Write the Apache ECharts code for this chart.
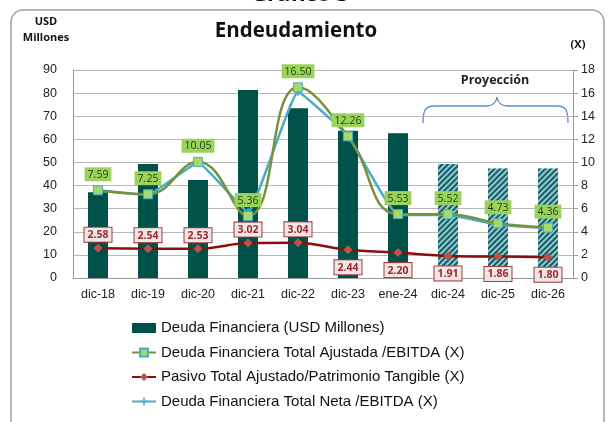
<!DOCTYPE html>
<html><head><meta charset="utf-8">
<script src="https://cdn.jsdelivr.net/npm/echarts@6/dist/echarts.min.js"></script>
<style>html,body{margin:0;padding:0;background:#fff}#c{width:610px;height:422px}</style>
</head><body><div id="c"></div>
<script>
const categories = ['dic-18','dic-19','dic-20','dic-21','dic-22','dic-23','ene-24','dic-24','dic-25','dic-26'];
const deuda = [37.1, 49.3, 42.4, 81.3, 73.4, 63.7, 62.6, 49.3, 47.4, 47.4];
const projected = [false,false,false,false,false,false,false,true,true,true];
const ajustada = [7.59, 7.25, 10.05, 5.36, 16.50, 12.26, 5.53, 5.52, 4.73, 4.36];
const pasivo = [2.58, 2.54, 2.53, 3.02, 3.04, 2.44, 2.20, 1.91, 1.86, 1.80];
const neta = [7.6, 7.2, 10.0, 5.7, 16.1, 12.3, 5.45, 5.45, 4.6, 4.3];
const leftTicks = {min:0, max:90, interval:10};
const rightTicks = {min:0, max:18, interval:2};
const names = ['Deuda Financiera (USD Millones)','Deuda Financiera Total Ajustada /EBITDA (X)','Pasivo Total Ajustado/Patrimonio Tangible (X)','Deuda Financiera Total Neta /EBITDA (X)'];

const chart = echarts.init(document.getElementById('c'));
const axisFont = {fontFamily:'Liberation Sans', fontSize:12.5, color:'#222'};
const hatch = {symbol:'rect', symbolSize:1, dashArrayX:[1,0], dashArrayY:[1.2,1.2], rotation:-Math.PI/4, color:'#1a5a5e'};
const bline = {fill:'none', stroke:'#5b8cc5', lineWidth:1.3};

chart.setOption({
  animation:false,
  grid:{left:73, right:37, top:70, bottom:144},
  legend:{
    orient:'vertical', left:131, top:320, padding:0, itemWidth:24, itemHeight:10, itemGap:8.5,
    textStyle:{fontFamily:'Liberation Sans', fontSize:15, color:'#111', lineHeight:16},
    data:[
      {name:names[0], icon:'rect', itemStyle:{color:'#005248'}},
      {name:names[1]},{name:names[2]},{name:names[3]}
    ]
  },
  xAxis:{type:'category', data:categories,
    axisLine:{lineStyle:{color:'#999'}}, axisTick:{show:false},
    axisLabel:Object.assign({margin:10, interval:0}, axisFont)},
  yAxis:[
    {type:'value', min:leftTicks.min, max:leftTicks.max, interval:leftTicks.interval,
     axisLine:{show:true, lineStyle:{color:'#999'}}, axisTick:{show:false},
     splitLine:{lineStyle:{color:'#b8b8b8', width:1.2}},
     axisLabel:Object.assign({margin:16}, axisFont)},
    {type:'value', min:rightTicks.min, max:rightTicks.max, interval:rightTicks.interval,
     axisLine:{show:true, lineStyle:{color:'#999'}}, axisTick:{show:true, length:5, lineStyle:{color:'#999'}},
     splitLine:{show:false},
     axisLabel:Object.assign({margin:8}, axisFont)}
  ],
  series:[
    {name:names[0], type:'bar', yAxisIndex:0, barWidth:20, z:1,
     itemStyle:{color:'#005248'},
     data:deuda.map((v,i)=> projected[i] ? {value:v, itemStyle:{color:'#8ccbd6', decal:hatch}} : v)},
    {name:names[3], type:'line', yAxisIndex:1, smooth:0.1, z:3,
     symbol:'path://M0,4L10,4L10,6L0,6Z M4,0L6,0L6,10L4,10Z', symbolSize:8,
     lineStyle:{color:'#4bacc6', width:2.5},
     itemStyle:{color:'#4bacc6'},
     data:neta},
    {name:names[1], type:'line', yAxisIndex:1, smooth:0.45, z:4,
     symbol:'rect', symbolSize:9,
     lineStyle:{color:'#76923c', width:2.5},
     itemStyle:{color:'#a6d96a', borderColor:'#4bacc6', borderWidth:1},
     label:{show:true, position:'top', distance:4, formatter:p=>p.value.toFixed(2),
       backgroundColor:'#9bd35a', color:'#1c3d10', fontFamily:'Open Sans', fontSize:10.5,
       padding:[2,3,1,3]},
     data:ajustada},
    {name:names[2], type:'line', yAxisIndex:1, smooth:0.3, z:5,
     symbol:'diamond', symbolSize:9,
     lineStyle:{color:'#8b0e0e', width:2.5},
     itemStyle:{color:'#c0504d'},
     data:pasivo.map((v,i)=>({value:v, label:{position: i<5 ? 'top' : 'bottom', distance: i<5 ? 2 : 6}})),
     label:{show:true, formatter:p=>p.value.toFixed(2),
       backgroundColor:'#f1e6e6', borderColor:'#9b3a3a', borderWidth:1,
       color:'#9b2a2a', fontFamily:'Open Sans', fontWeight:'bold', fontSize:10.5, padding:[2,3,1,3]}}
  ],
  graphic:[
    {type:'rect', shape:{x:11, y:10, width:593, height:440, r:12}, style:{fill:'none', stroke:'#a0a0a0', lineWidth:1.5}, silent:true},
    {type:'text', x:300, y:-5, style:{text:'Gráfico 3', font:'bold 22px "Open Sans"', fill:'#111', textAlign:'center', textVerticalAlign:'middle'}},
    {type:'text', x:296, y:31, style:{text:'Endeudamiento', font:'bold 20.5px "Open Sans"', fill:'#111', textAlign:'center', textVerticalAlign:'middle'}},
    {type:'text', x:46, y:30, style:{text:'USD\nMillones', font:'bold 11px "Open Sans"', lineHeight:16, fill:'#111', textAlign:'center', textVerticalAlign:'middle'}},
    {type:'text', x:578, y:45, style:{text:'(X)', font:'bold 11px "Open Sans"', fill:'#111', textAlign:'center', textVerticalAlign:'middle'}},
    {type:'text', x:495, y:80, style:{text:'Proyección', font:'bold 12.5px "Open Sans"', fill:'#222', textAlign:'center', textVerticalAlign:'middle'}},
    {type:'bezierCurve', shape:{x1:423,y1:123,x2:435,y2:106,cpx1:423,cpy1:110,cpx2:425,cpy2:106}, style:bline},
    {type:'line', shape:{x1:435,y1:106,x2:486,y2:106}, style:bline},
    {type:'bezierCurve', shape:{x1:486,y1:106,x2:497,y2:97,cpx1:492,cpy1:106,cpx2:496,cpy2:104}, style:bline},
    {type:'bezierCurve', shape:{x1:497,y1:97,x2:508,y2:106,cpx1:498,cpy1:104,cpx2:502,cpy2:106}, style:bline},
    {type:'line', shape:{x1:508,y1:106,x2:557,y2:106}, style:bline},
    {type:'bezierCurve', shape:{x1:557,y1:106,x2:568,y2:123,cpx1:566,cpy1:106,cpx2:568,cpy2:110}, style:bline}
  ]
});
</script></body></html>
